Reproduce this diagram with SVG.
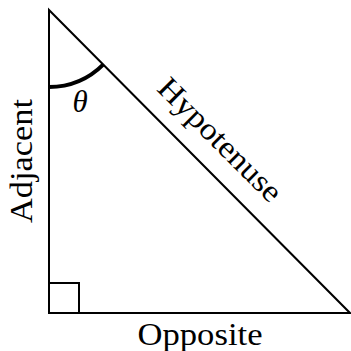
<svg xmlns="http://www.w3.org/2000/svg" width="351" height="351" viewBox="0 0 351 351">
<style>
.edge{fill:none;stroke:#000;stroke-width:2;stroke-linejoin:miter}
text{font-family:'Liberation Serif','Times New Roman',serif;fill:#000;font-size:31px}
</style>
<rect width="351" height="351" fill="#fff"/>
<g id="connectors">
<path class="edge" d="M49,10 L49,313 L350,313 Z"/>
<path class="edge" d="M49,283 L79,283 L79,313"/>
<path d="M49,87 A77,77 0 0 0 103.4,64.4" fill="none" stroke="#000" stroke-width="4"/>
</g>
<g id="theta"><text x="80" y="112" text-anchor="middle" font-style="italic" font-size="32">θ</text></g>
<g id="hypotenuse"><text x="213" y="147" text-anchor="middle" transform="rotate(45 213 147)" textLength="162" lengthAdjust="spacingAndGlyphs">Hypotenuse</text></g>
<g id="adjacent"><text x="0" y="0" text-anchor="middle" transform="translate(32,161) rotate(-90)" textLength="124" lengthAdjust="spacingAndGlyphs">Adjacent</text></g>
<g id="opposite"><text x="200" y="345" text-anchor="middle" textLength="125" lengthAdjust="spacingAndGlyphs">Opposite</text></g>
</svg>
